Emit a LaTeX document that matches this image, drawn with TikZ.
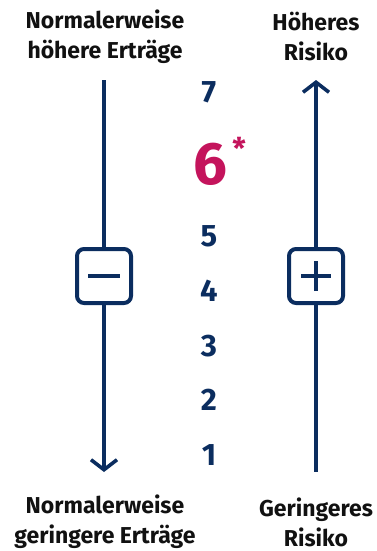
\documentclass[tikz,border=0pt]{standalone}
\usepackage{fontspec}
\setmainfont{Fira Sans}
\usetikzlibrary{arrows.meta}
\definecolor{navy}{HTML}{0B2D5F}
\definecolor{magenta}{HTML}{C4145C}
\definecolor{txt}{HTML}{111111}
\begin{document}
\begin{tikzpicture}[x=1pt,y=-1pt,
  label/.style={font=\fontsize{23}{30}\selectfont\bfseries, text=txt, align=center, inner sep=0pt},
  num/.style={font=\fontsize{31}{31}\selectfont\bfseries, text=navy, inner sep=0pt},
  bar/.style={draw=navy, line width=3.6pt},
  signbox/.style={draw=navy, line width=4pt, rounded corners=7pt, minimum size=54pt, inner sep=0pt},
  sign/.style={draw=navy, line width=4pt},
  tip/.style={-{Straight Barb[length=10pt,width=26pt,line width=3.6pt]}}
]
\useasboundingbox (0,0) rectangle (376,551);
% labels
\node[label] (tl) at (105,37) {Normalerweise\\höhere Erträge};
\node[label] (tr) at (316,37) {Höheres\\Risiko};
\node[label] (bl) at (105,522) {Normalerweise\\geringere Erträge};
\node[label] (br) at (316,522) {Geringeres\\Risiko};
% boxes
\node[signbox] (boxL) at (104,276) {};
\node[signbox] (boxR) at (316,276) {};
\draw[sign] ([xshift=-16pt]boxL.center) -- ([xshift=16pt]boxL.center);
\draw[sign] ([xshift=-15pt]boxR.center) -- ([xshift=15pt]boxR.center);
\draw[sign] ([yshift=-15pt]boxR.center) -- ([yshift=15pt]boxR.center);
% connector ends
\coordinate (lt) at (104,80);
\coordinate (lb) at (104,472);
\coordinate (rt) at (316,80);
\coordinate (rb) at (316,472);
\draw[bar] (lt) -- (boxL.north);
\draw[bar,tip] (boxL.south) -- (lb);
\draw[bar,tip] (boxR.north) -- (rt);
\draw[bar] (boxR.south) -- (rb);
% numbers
\node[num] (n7) at (209,92) {7};
\node[font=\fontsize{60}{60}\selectfont\bfseries, text=magenta, inner sep=0pt] (n6) at (210,164) {6};
\node[font=\fontsize{30}{30}\selectfont\bfseries, text=magenta, inner sep=0pt] (star) at (239,148) {*};
\node[num] (n5) at (209,236) {5};
\node[num] (n4) at (209,291) {4};
\node[num] (n3) at (209,346) {3};
\node[num] (n2) at (209,400) {2};
\node[num] (n1) at (209,455) {1};
\end{tikzpicture}
\end{document}
